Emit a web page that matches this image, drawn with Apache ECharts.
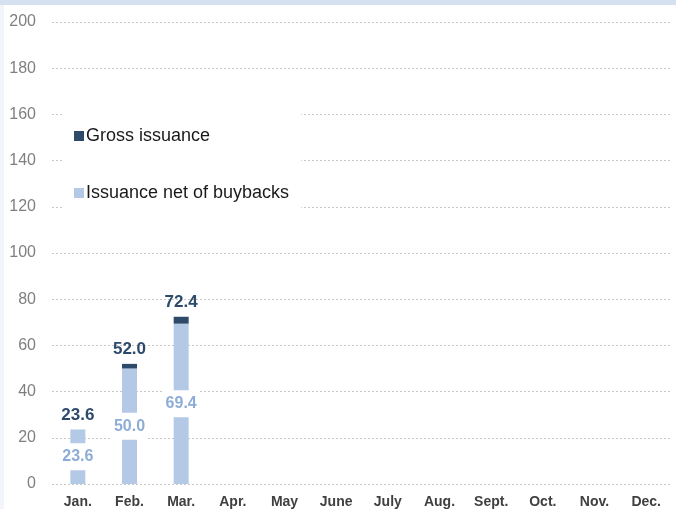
<!DOCTYPE html>
<html>
<head>
<meta charset="utf-8">
<style>
  html, body { margin: 0; padding: 0; background: #ffffff; }
  #chart { width: 676px; height: 509px; }
</style>
<script src="https://cdn.jsdelivr.net/npm/echarts@6/dist/echarts.min.js"></script>
</head>
<body>
<div id="chart"></div>
<script>
// Monthly issuance, cumulative totals (billions)
const months = ['Jan.', 'Feb.', 'Mar.', 'Apr.', 'May', 'June', 'July', 'Aug.', 'Sept.', 'Oct.', 'Nov.', 'Dec.'];
const grossIssuance = [23.6, 52.0, 72.4, null, null, null, null, null, null, null, null, null];
const netOfBuybacks = [23.6, 50.0, 69.4, null, null, null, null, null, null, null, null, null];
const yTicks = [0, 20, 40, 60, 80, 100, 120, 140, 160, 180, 200];

const LIGHT = '#b4c9e6';
const DARK = '#2e4a6b';

// Dark cap = gross minus net, stacked on top of the net bar
const buybackGap = grossIssuance.map((g, i) =>
  g == null || netOfBuybacks[i] == null ? null : +(g - netOfBuybacks[i]).toFixed(1));

const chart = echarts.init(document.getElementById('chart'));

chart.setOption({
  animation: false,
  textStyle: { fontFamily: '"Liberation Sans", Arial, sans-serif' },
  graphic: [
    { type: 'rect', left: 0, top: 0, shape: { width: 676, height: 5 }, style: { fill: '#d5e1f0' }, z: 0 },
    { type: 'rect', left: 0, top: 5, shape: { width: 4, height: 504 }, style: { fill: '#f2f6fb' }, z: 0 }
  ],
  grid: { left: 52, right: 4, top: 22, bottom: 25 },
  legend: {
    orient: 'vertical',
    left: 62,
    top: 107,
    itemGap: 39,
    itemWidth: 10,
    itemHeight: 10,
    padding: [20, 12, 20, 12],
    backgroundColor: '#ffffff',
    icon: 'rect',
    data: ['Gross issuance', 'Issuance net of buybacks'],
    textStyle: { fontSize: 18, color: '#1a1a1a', padding: [0, 0, 0, -3] },
    z: 5
  },
  xAxis: {
    type: 'category',
    data: months,
    axisLine: { show: false },
    axisTick: { show: false },
    axisLabel: { color: '#404040', fontSize: 14, fontWeight: 'bold', margin: 11 }
  },
  yAxis: {
    type: 'value',
    min: yTicks[0],
    max: yTicks[yTicks.length - 1],
    interval: 20,
    axisLine: { show: false },
    axisTick: { show: false },
    axisLabel: { color: '#7f7f7f', fontSize: 16, margin: 16 },
    splitLine: { lineStyle: { color: '#c8c8c8', type: [2, 2], width: 1 } }
  },
  series: [
    {
      name: 'Issuance net of buybacks',
      type: 'bar',
      stack: 'total',
      barWidth: 15,
      itemStyle: { color: LIGHT },
      data: netOfBuybacks,
      label: {
        show: true,
        position: 'inside',
        formatter: p => p.value == null ? '' : p.value.toFixed(1),
        color: '#8eadd6',
        fontSize: 16,
        fontWeight: 'bold',
        backgroundColor: '#ffffff',
        padding: [6, 2, 5, 2]
      }
    },
    {
      name: 'Gross issuance',
      type: 'bar',
      stack: 'total',
      barWidth: 15,
      itemStyle: { color: DARK },
      data: buybackGap,
      label: {
        show: true,
        position: 'top',
        distance: 6,
        formatter: p => grossIssuance[p.dataIndex] == null ? '' : grossIssuance[p.dataIndex].toFixed(1),
        color: DARK,
        fontSize: 17,
        fontWeight: 'bold'
      }
    }
  ]
});
</script>
</body>
</html>
